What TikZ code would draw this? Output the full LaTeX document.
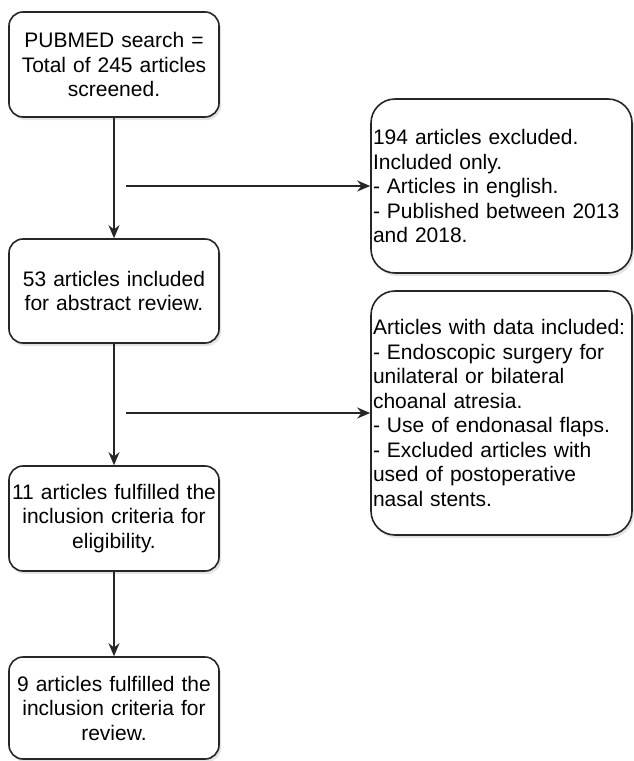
\documentclass[tikz,border=0pt]{standalone}
\usepackage{fontspec}
\setmainfont{Liberation Sans}
\usetikzlibrary{arrows.meta,shadows}
\tikzset{
  stagebox/.style={draw=black!85,line width=1.6pt,fill=white,rounded corners=14pt,
    minimum width=210pt,minimum height=105pt,text width=204pt,align=center,inner sep=0pt,
    font=\fontsize{21pt}{24.5pt}\selectfont,
    drop shadow={opacity=0.22,shadow xshift=2pt,shadow yshift=-3pt}},
  notebox/.style={stagebox,rounded corners=24pt,minimum width=261pt,text width=257pt,align=left},
  flow/.style={draw=black!85,line width=1.5pt,-{Stealth[length=13pt,width=11pt]}},
  branch/.style={draw=black!85,line width=1.5pt,-{Stealth[length=13pt,width=11pt]}},
}

\begin{document}
\begin{tikzpicture}[x=1pt,y=-1pt]
  \useasboundingbox (0,0) rectangle (633,761);

  % main column
  \node[stagebox] (search) at (114,64.5) {PUBMED search =\\Total of 245 articles\\screened.};
  \node[stagebox,minimum height=104pt] (abstract) at (114,291) {53 articles included\\for abstract review.};
  \node[stagebox] (eligible) at (114,518.5) {11 articles fulfilled the\\inclusion criteria for\\eligibility.};
  \node[stagebox,minimum height=102pt] (review) at (114,708) {9 articles fulfilled the\\inclusion criteria for\\review.};

  % side notes
  \node[notebox,minimum height=174pt] (excluded) at (501.5,186) {194 articles excluded.\\Included only.\\- Articles in english.\\- Published between 2013\\and 2018.};
  \node[notebox,minimum height=244pt] (criteria) at (501.5,413) {Articles with data included:\\- Endoscopic surgery for\\unilateral or bilateral\\choanal atresia.\\- Use of endonasal flaps.\\- Excluded articles with\\used of postoperative\\nasal stents.};

  \coordinate (split1) at (126,186);
  \coordinate (split2) at (126,413);

  \draw[flow] (search) -- (abstract);
  \draw[flow] (abstract) -- (eligible);
  \draw[flow] (eligible) -- (review);
  \draw[branch] (split1) -- (excluded.west);
  \draw[branch] (split2) -- (criteria.west);
\end{tikzpicture}
\end{document}
